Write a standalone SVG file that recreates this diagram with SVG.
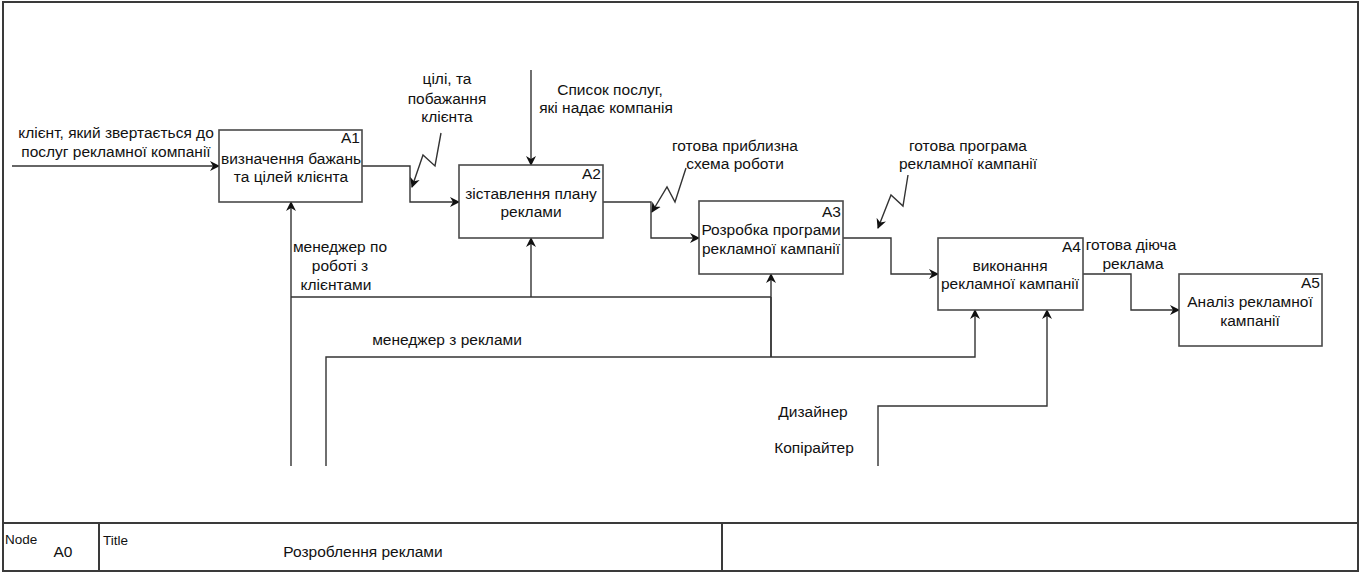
<svg xmlns="http://www.w3.org/2000/svg" width="1362" height="575" viewBox="0 0 1362 575">
  <style>
    text { font-family: "Liberation Sans", Arial, sans-serif; font-size: 15.5px; fill: #111; }
    .c { text-anchor: middle; }
    .r { text-anchor: end; }
    .small { font-size: 13.5px; }
    .box { fill: #fff; stroke: #4a4a4a; stroke-width: 1.6; }
    .frame { fill: none; stroke: #3a3a3a; stroke-width: 2; }
    .wire { fill: none; stroke: #333; stroke-width: 1.4; }
    .arrow { fill: none; stroke: #333; stroke-width: 1.4; marker-end: url(#tip); }
  </style>
  <defs>
    <marker id="tip" viewBox="0 0 10 10" refX="9" refY="5" markerWidth="10" markerHeight="10" markerUnits="userSpaceOnUse" orient="auto">
      <path d="M0,0 L10,5 L0,10 L3,5 Z" fill="#111"/>
    </marker>
  </defs>
  <rect width="1362" height="575" fill="#fff"/>

  <!-- sheet frame and title block -->
  <g id="frame">
    <rect class="frame" x="3" y="2" width="1355" height="569"/>
    <line class="frame" x1="3" y1="523" x2="1358" y2="523"/>
    <line class="frame" x1="99" y1="523" x2="99" y2="571"/>
    <line class="frame" x1="722" y1="523" x2="722" y2="571"/>
    <text class="small" x="5" y="544">Node</text>
    <text x="63" y="557" class="c">A0</text>
    <text class="small" x="103" y="545">Title</text>
    <text x="363" y="557" class="c">Розроблення реклами</text>
  </g>

  <!-- connectors -->
  <g id="connectors">
    <path class="arrow" d="M12,166 H219"/>
    <path class="arrow" d="M362,166 H410 V202 H459"/>
    <path class="arrow" d="M531,70 V165"/>
    <path class="arrow" d="M603,202 H651 V238 H699"/>
    <path class="arrow" d="M843,238 H891 V274 H938"/>
    <path class="arrow" d="M1083,274 H1131 V310 H1179"/>
    <!-- mechanisms from below -->
    <path class="arrow" d="M291,466 V202"/>
    <path class="wire" d="M291,297 H771"/>
    <path class="arrow" d="M531,297 V238"/>
    <path class="arrow" d="M771,357 V274"/>
    <path class="wire" d="M771,297 V357"/>
    <path class="arrow" d="M326,466 V357 H975 V310"/>
    <path class="arrow" d="M878,466 V406 H1047 V310"/>
    <!-- label leaders -->
    <path class="arrow" d="M441,133 L435,166 L423,155 L412,187"/>
    <path class="arrow" d="M686,168 L675,202 L667,187 L652,212"/>
    <path class="arrow" d="M908,175 L903,206 L891,195 L878,228"/>
  </g>

  <!-- arrow labels -->
  <g id="labels">
    <text x="116" y="138" class="c">клієнт, який звертається до</text>
    <text x="116" y="157" class="c">послуг рекламної компанії</text>
    <text x="447" y="84" class="c">цілі, та</text>
    <text x="447" y="104" class="c">побажання</text>
    <text x="447" y="122" class="c">клієнта</text>
    <text x="610" y="95" class="c">Список послуг,</text>
    <text x="606" y="113" class="c">які надає компанія</text>
    <text x="735" y="151" class="c">готова приблизна</text>
    <text x="735" y="169" class="c">схема роботи</text>
    <text x="968" y="151" class="c">готова програма</text>
    <text x="968" y="169" class="c">рекламної кампанії</text>
    <text x="1131" y="250" class="c">готова діюча</text>
    <text x="1133" y="269" class="c">реклама</text>
    <text x="340" y="252" class="c">менеджер по</text>
    <text x="340" y="271" class="c">роботі з</text>
    <text x="336" y="290" class="c">клієнтами</text>
    <text x="447" y="345" class="c">менеджер з реклами</text>
    <text x="813" y="417" class="c">Дизайнер</text>
    <text x="814" y="453" class="c">Копірайтер</text>
  </g>

  <!-- activities -->
  <g id="A1">
    <rect class="box" x="219" y="130" width="143" height="72"/>
    <text x="360" y="143" class="r">A1</text>
    <text x="291" y="164" class="c">визначення бажань</text>
    <text x="291" y="182" class="c">та цілей клієнта</text>
  </g>
  <g id="A2">
    <rect class="box" x="459" y="165" width="144" height="73"/>
    <text x="601" y="179" class="r">A2</text>
    <text x="531" y="199" class="c">зіставлення плану</text>
    <text x="531" y="217" class="c">реклами</text>
  </g>
  <g id="A3">
    <rect class="box" x="699" y="201" width="144" height="73"/>
    <text x="841" y="217" class="r">A3</text>
    <text x="771" y="235" class="c">Розробка програми</text>
    <text x="771" y="254" class="c">рекламної кампанії</text>
  </g>
  <g id="A4">
    <rect class="box" x="938" y="238" width="145" height="72"/>
    <text x="1081" y="252" class="r">A4</text>
    <text x="1010" y="271" class="c">виконання</text>
    <text x="1010" y="289" class="c">рекламної кампанії</text>
  </g>
  <g id="A5">
    <rect class="box" x="1179" y="274" width="143" height="72"/>
    <text x="1320" y="288" class="r">A5</text>
    <text x="1250" y="307" class="c">Аналіз рекламної</text>
    <text x="1250" y="326" class="c">кампанії</text>
  </g>
</svg>
